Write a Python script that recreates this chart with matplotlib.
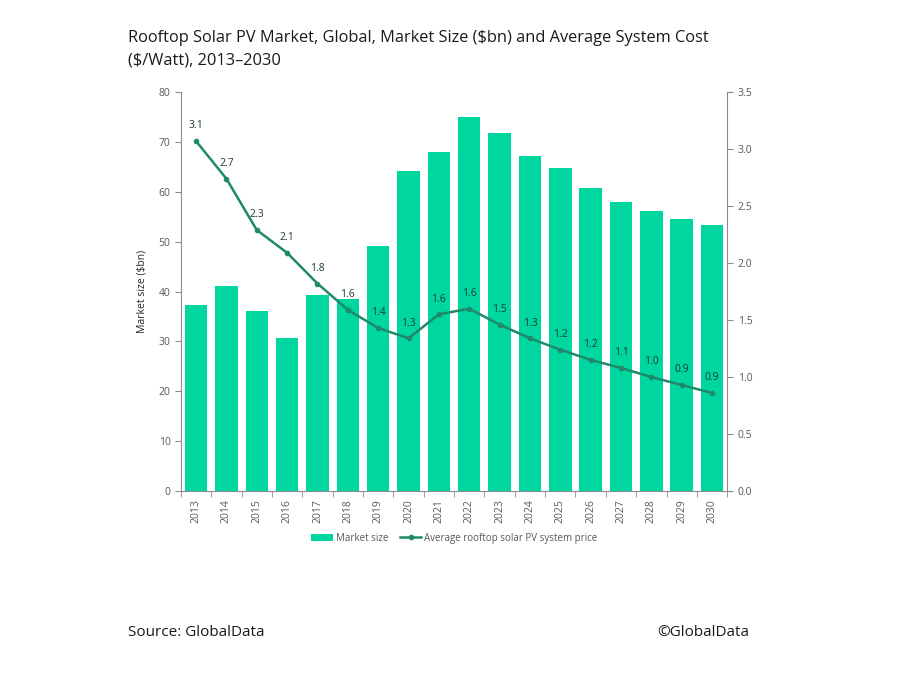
import numpy as np
import matplotlib.pyplot as plt

years = [str(y) for y in range(2013, 2031)]
market_size = [37.3, 41.1, 36.1, 30.7, 39.3, 38.6, 49.1, 64.2, 67.9, 75.0,
               71.8, 67.2, 64.8, 60.8, 57.9, 56.2, 54.6, 53.4]
price = [3.07, 2.74, 2.29, 2.09, 1.82, 1.59, 1.43, 1.34, 1.55, 1.60,
         1.46, 1.34, 1.24, 1.15, 1.08, 1.00, 0.93, 0.86]
price_labels = ['3.1', '2.7', '2.3', '2.1', '1.8', '1.6', '1.4', '1.3', '1.6', '1.6',
                '1.5', '1.3', '1.2', '1.2', '1.1', '1.0', '0.9', '0.9']

plt.rcParams['font.family'] = ['Open Sans', 'DejaVu Sans']

bar_color = '#00D6A0'
line_color = '#1F8A6A'
axis_color = '#8C8C8C'
tick_color = '#595959'

fig = plt.figure(figsize=(9, 6.76), dpi=100)
ax = fig.add_axes([0.201, 0.2737, 0.607, 0.590])
x = np.arange(len(years))

bars = ax.bar(x, market_size, width=0.74, color=bar_color, label='Market size', zorder=2)
ax.set_xlim(-0.5, len(years) - 0.5)
ax.set_ylim(0, 80)
ax.set_yticks(range(0, 81, 10))
ax.set_xticks(x)
ax.set_xticklabels(years, rotation=90, fontsize=7.5, color=tick_color)
ax.set_xticks(np.arange(-0.5, len(years)), minor=True)
ax.tick_params(axis='x', which='major', length=0, pad=6)
ax.tick_params(axis='x', which='minor', length=4, color=axis_color)
ax.tick_params(axis='y', labelsize=7.5, labelcolor=tick_color, length=4, color=axis_color)
ax.set_ylabel('Market size ($bn)', fontsize=7.5, color='#262626', labelpad=8)
for s in ['top', 'right']:
    ax.spines[s].set_visible(False)
for s in ['left', 'bottom']:
    ax.spines[s].set_color(axis_color)

ax2 = ax.twinx()
line, = ax2.plot(x, price, color=line_color, lw=1.8, marker='o', ms=3,
                 label='Average rooftop solar PV system price', zorder=3)
ax2.set_ylim(0, 3.5)
ax2.set_yticks(np.arange(0, 3.51, 0.5))
ax2.set_yticklabels([f'{v:.1f}' for v in np.arange(0, 3.51, 0.5)])
ax2.tick_params(axis='y', labelsize=7.5, labelcolor=tick_color, length=4, color=axis_color)
for s in ['top', 'left', 'bottom']:
    ax2.spines[s].set_visible(False)
ax2.spines['right'].set_color(axis_color)

for xi, p, lab in zip(x, price, price_labels):
    ax2.annotate(lab, (xi, p), xytext=(0, 7), textcoords='offset points',
                 ha='center', va='bottom', fontsize=7.5, color='#1E3A30')

fig.legend([bars, line], ['Market size', 'Average rooftop solar PV system price'],
           loc='center', bbox_to_anchor=(0.505, 0.204), ncol=2, frameon=False,
           fontsize=7, handlelength=2.2, columnspacing=1.2, handletextpad=0.3,
           labelcolor='#595959')

fig.text(0.142, 0.955, 'Rooftop Solar PV Market, Global, Market Size ($bn) and Average System Cost\n($/Watt), 2013\u20132030',
         fontsize=11.8, color='#1a1a1a', va='top', ha='left', linespacing=1.5)
fig.text(0.142, 0.065, 'Source: GlobalData', fontsize=11, color='#1a1a1a', ha='left', va='center')
fig.text(0.832, 0.065, '\u00a9GlobalData', fontsize=11, color='#1a1a1a', ha='right', va='center')

fig.savefig('out.png', dpi=100)
